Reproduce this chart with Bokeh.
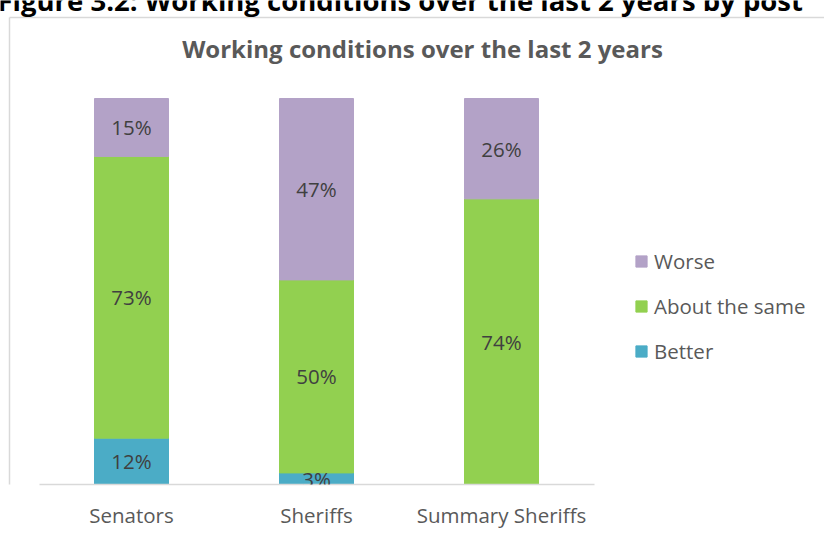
from bokeh.plotting import figure
from bokeh.models import (Range1d, Legend, LegendItem, LabelSet, Label,
                          ColumnDataSource, FixedTicker)
from bokeh.core.properties import value
from bokeh.embed import file_html
from bokeh.resources import INLINE

# ---- data ----
categories = ["Senators", "Sheriffs", "Summary Sheriffs"]
series = ["Better", "About the same", "Worse"]
better = [12, 3, 0]
about_same = [73, 50, 74]
worse = [15, 47, 26]
colors = ["#4BACC6", "#92D050", "#B3A2C7"]
title_text = "Working conditions over the last 2 years"
caption_text = "Figure 3.2: Working conditions over the last 2 years by post"

FONT = "Open Sans"
W, H = 824, 537

# layout (pixels)
AXIS_Y = 484          # pixel row of the value 0
TOP_Y = 98            # pixel row of the value 100
CAT_PX = 185          # pixels per category slot
PLOT_LEFT = 38.5      # pixel column where the first slot starts
BORDER_X, BORDER_Y = 9, 17
px_per_unit = (AXIS_Y - TOP_Y) / 100.0

x_range = Range1d(-PLOT_LEFT / CAT_PX, (W - PLOT_LEFT) / CAT_PX)
y_range = Range1d(0, AXIS_Y / px_per_unit)

def ydata(py):
    return (AXIS_Y - py) / px_per_unit

def xdata(px):
    return (px - PLOT_LEFT) / CAT_PX

p = figure(x_range=x_range, y_range=y_range, width=W, height=H,
           output_backend="svg", toolbar_location=None,
           min_border_left=0, min_border_right=0, min_border_top=0,
           min_border_bottom=H - AXIS_Y)

# chart-area border (left and top edges of the chart box)
bx, by = xdata(BORDER_X), ydata(BORDER_Y)
p.segment(x0=[bx, bx], y0=[by, by], x1=[bx, xdata(W + 20)],
          y1=[ydata(H + 20), by], line_color="#D9D9D9", line_width=1.5)

xpos = [i + 0.5 for i in range(len(categories))]
src = ColumnDataSource(dict(x=xpos, Better=better, Worse=worse,
                            **{"About the same": about_same}))
rs = p.vbar_stack(series, x="x", width=0.4, source=src, fill_color=colors,
                  line_color=colors)

# data labels at segment centers
lx, ly, lt = [], [], []
for i in range(len(categories)):
    bottom = 0
    for vals in (better, about_same, worse):
        v = vals[i]
        if v > 0:
            lx.append(xpos[i])
            ly.append(bottom + v / 2)
            lt.append(f"{v}%")
        bottom += v
lsrc = ColumnDataSource(dict(x=lx, y=ly, t=lt))
p.add_layout(LabelSet(x="x", y="y", text="t", source=lsrc, text_align="center",
                      text_baseline="middle", text_font_size="20.5px",
                      text_color="#404040", text_font=value(FONT)))

legend = Legend(items=[LegendItem(label=s, renderers=[r])
                       for s, r in reversed(list(zip(series, rs)))],
                location=(634, 119), orientation="vertical",
                glyph_width=14, glyph_height=14, label_height=28,
                label_text_font_size="20.5px",
                label_text_color="#595959", label_text_font=FONT,
                label_standoff=6, spacing=17, padding=0, margin=0,
                border_line_color=None, background_fill_alpha=0)
p.add_layout(legend)

p.add_layout(Label(x=422, y=ydata(48), x_units="screen",
                   text=title_text, text_align="center", text_baseline="middle",
                   text_font=FONT, text_font_style="bold", text_font_size="24px",
                   text_color="#595959"))
p.add_layout(Label(x=-3, y=ydata(0), x_units="screen",
                   text=caption_text, text_align="left", text_baseline="middle",
                   text_font=FONT, text_font_style="bold", text_font_size="27.5px",
                   text_color="#000000"))

ax = p.xaxis[0]
ax.bounds = (0, len(categories))
ax.ticker = FixedTicker(ticks=xpos)
ax.major_label_overrides = {x: c for x, c in zip(xpos, categories)}
ax.axis_line_color = "#D9D9D9"
ax.axis_line_width = 1.5
ax.major_tick_line_color = None
ax.minor_tick_line_color = None
ax.major_label_text_font_size = "20.5px"
ax.major_label_text_color = "#595959"
ax.major_label_text_font = FONT
ax.major_label_standoff = 10
p.yaxis.visible = False
p.xgrid.visible = False
p.ygrid.visible = False
p.outline_line_color = None

open("out.html", "w").write(file_html(p, INLINE))
